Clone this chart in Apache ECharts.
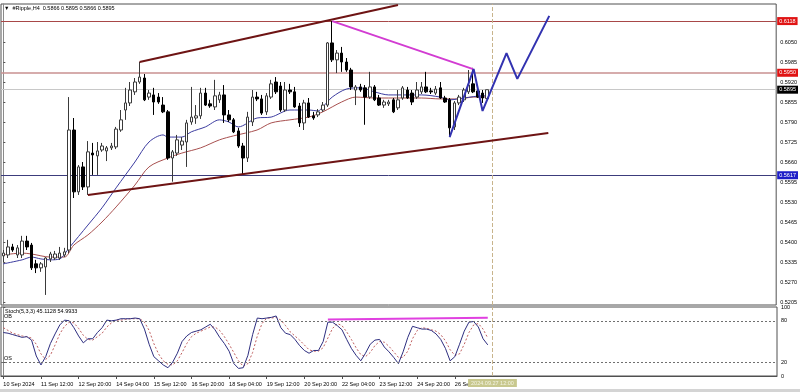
<!DOCTYPE html>
<html><head><meta charset="utf-8">
<script src="https://cdn.jsdelivr.net/npm/echarts@6/dist/echarts.min.js"></script>
<style>html,body{margin:0;padding:0;background:#fff}#c{width:800px;height:392px}</style>
</head><body><div id="c"></div>
<script>
// ---- data (H4 bars, 10 Sep 2024 04:00 ... 27 Sep 2024 08:00) ----
const opens = [
0.5355,0.5358,0.5384,0.5358,0.5358,0.5403,0.5390,0.5329,0.5316,0.5319,
0.5345,0.5348,0.5348,0.5358,0.5374,0.5764,0.5563,0.5644,0.5579,0.5689,
0.5680,0.5699,0.5696,0.5706,0.5709,0.5764,0.5829,0.5852,0.5888,0.5920,
0.5933,0.5871,0.5878,0.5871,0.5845,0.5823,0.5673,0.5689,0.5715,0.5725,
0.5790,0.5803,0.5810,0.5884,0.5849,0.5839,0.5862,0.5878,0.5813,0.5797,
0.5761,0.5712,0.5673,0.5790,0.5871,0.5865,0.5823,0.5871,0.5920,0.5907,
0.5829,0.5894,0.5888,0.5842,0.5787,0.5852,0.5810,0.5813,0.5829,0.5845,
0.6047,0.5992,0.6014,0.5985,0.5959,0.5894,0.5904,0.5901,0.5871,0.5904,
0.5868,0.5845,0.5849,0.5862,0.5836,0.5868,0.5894,0.5884,0.5871,0.5888,
0.5904,0.5891,0.5884,0.5901,0.5868,0.5862,0.5774,0.5852,0.5862,0.5888,
0.5914,0.5891,0.5884,0.5866];
const highs = [
0.5374,0.5407,0.5394,0.5390,0.5420,0.5420,0.5397,0.5342,0.5335,0.5351,
0.5368,0.5371,0.5384,0.5381,0.5871,0.5803,0.5650,0.5660,0.5728,0.5722,
0.5725,0.5722,0.5712,0.5722,0.5774,0.5829,0.5901,0.5920,0.5933,0.5985,
0.5946,0.5894,0.5901,0.5884,0.5871,0.5829,0.5699,0.5748,0.5741,0.5797,
0.5904,0.5845,0.5901,0.5901,0.5862,0.5927,0.5888,0.5910,0.5829,0.5803,
0.5771,0.5722,0.5823,0.5894,0.5888,0.5878,0.5884,0.5927,0.5936,0.5920,
0.5920,0.5914,0.5904,0.5852,0.5862,0.5868,0.5823,0.5832,0.5855,0.6050,
0.6118,0.6024,0.6034,0.5998,0.5966,0.5910,0.5914,0.5910,0.5953,0.5910,
0.5878,0.5862,0.5862,0.5868,0.5894,0.5907,0.5904,0.5894,0.5920,0.5920,
0.5953,0.5901,0.5907,0.5920,0.5875,0.5868,0.5858,0.5878,0.5901,0.5959,
0.5966,0.5901,0.5894,0.5895];
const lows = [
0.5335,0.5348,0.5368,0.5348,0.5348,0.5374,0.5309,0.5299,0.5303,0.5228,
0.5335,0.5342,0.5342,0.5351,0.5364,0.5543,0.5553,0.5569,0.5553,0.5618,
0.5618,0.5693,0.5663,0.5699,0.5702,0.5758,0.5797,0.5842,0.5878,0.5914,
0.5858,0.5862,0.5813,0.5849,0.5819,0.5667,0.5596,0.5680,0.5699,0.5644,
0.5781,0.5784,0.5800,0.5842,0.5836,0.5829,0.5852,0.5787,0.5790,0.5754,
0.5706,0.5621,0.5660,0.5777,0.5858,0.5813,0.5813,0.5865,0.5881,0.5823,
0.5823,0.5881,0.5836,0.5774,0.5764,0.5803,0.5797,0.5806,0.5823,0.5839,
0.5985,0.5949,0.5953,0.5953,0.5894,0.5845,0.5888,0.5781,0.5865,0.5858,
0.5842,0.5836,0.5842,0.5819,0.5829,0.5862,0.5865,0.5845,0.5865,0.5881,
0.5884,0.5881,0.5878,0.5865,0.5852,0.5741,0.5764,0.5845,0.5855,0.5881,
0.5884,0.5868,0.5852,0.5866];
const closes = [
0.5364,0.5384,0.5374,0.5381,0.5403,0.5384,0.5316,0.5316,0.5329,0.5348,
0.5361,0.5361,0.5364,0.5368,0.5764,0.5563,0.5644,0.5579,0.5693,0.5683,
0.5696,0.5712,0.5706,0.5712,0.5767,0.5797,0.5852,0.5894,0.5920,0.5936,
0.5862,0.5884,0.5855,0.5855,0.5823,0.5673,0.5693,0.5732,0.5728,0.5787,
0.5806,0.5810,0.5884,0.5845,0.5842,0.5875,0.5878,0.5813,0.5797,0.5758,
0.5712,0.5673,0.5806,0.5871,0.5865,0.5819,0.5875,0.5914,0.5888,0.5829,
0.5894,0.5888,0.5839,0.5787,0.5852,0.5806,0.5803,0.5823,0.5845,0.6047,
0.5992,0.6014,0.5985,0.5959,0.5904,0.5904,0.5894,0.5871,0.5904,0.5862,
0.5845,0.5855,0.5855,0.5823,0.5862,0.5901,0.5868,0.5855,0.5894,0.5904,
0.5888,0.5888,0.5897,0.5868,0.5855,0.5771,0.5852,0.5871,0.5894,0.5910,
0.5888,0.5871,0.5868,0.5895];

// moving averages (read at sample bars)
const maFastBars = [0,4,6,8,10,12,14,18,21,24,28,31,34,35,38,40,43,46,48,50,54,57,61,65,67,68,70,73,76,79,82,86,89,93,95,98,102,103];
const maFastVals = [0.5329,0.5342,0.5351,0.5345,0.5342,0.5345,0.5381,0.5455,0.5511,0.5576,0.5660,0.5725,0.5748,0.5741,0.5741,0.5758,0.5774,0.5797,0.5790,0.5774,0.5803,0.5806,0.5829,0.5829,0.5826,0.5839,0.5871,0.5897,0.5901,0.5888,0.5878,0.5878,0.5878,0.5871,0.5862,0.5868,0.5875,0.5875];
const maSlowBars = [0,4,6,10,13,15,18,21,24,28,31,35,38,42,46,49,54,57,61,65,68,72,75,79,82,89,93,97,100,103];
const maSlowVals = [0.5358,0.5364,0.5361,0.5351,0.5351,0.5390,0.5423,0.5465,0.5514,0.5585,0.5644,0.5673,0.5689,0.5706,0.5732,0.5745,0.5764,0.5787,0.5797,0.5806,0.5823,0.5855,0.5871,0.5868,0.5868,0.5868,0.5865,0.5865,0.5871,0.5871];

// Stochastic(5,3,3)
const stochMain = [
63,62,60,58,56,57,52,29,16,28,
47,61,74,81,80,70,58,48,54,54,
63,70,81,80,81,83,83,83,84,83,
68,46,28,22,16,12,20,33,50,58,
63,65,67,71,75,67,56,47,36,18,
11,12,30,60,84,83,84,85,87,70,
62,60,53,44,37,33,37,37,50,78,
78,73,67,53,40,30,22,33,46,52,
53,42,35,27,18,35,56,72,70,68,
68,66,61,53,40,22,28,46,65,78,
79,71,54,45.1128];
const stochSignal = [
70,66,62,60,58,57,55,46,32,24,
30,45,61,72,78,77,69,59,53,52,
57,62,71,77,81,81,82,83,83,83,
78,66,47,32,22,17,16,22,34,47,
57,62,65,68,71,71,66,57,46,34,
22,14,18,34,58,76,84,84,85,81,
73,64,58,52,45,38,36,36,41,55,
69,76,73,64,53,41,31,28,34,44,
50,49,43,35,27,27,36,54,66,70,
69,67,65,60,51,38,30,32,46,63,
74,76,68,54.9933];

// drawn objects: [bar, price]
const upperTrend = [[29,0.5985],[84,0.6170]];
const lowerTrend = [[18,0.5553],[116,0.5754]];
const magentaLine = [[70,0.6118],[100,0.5962]];
const zigzag = [[95.0,0.5741],[100.1,0.5962],[102.0,0.5826],[107.1,0.6014],[109.4,0.5930],[116.2,0.6135]];
const stochMagenta = [[69,82],[103,84.5]];

const levels = [0.6118, 0.5950, 0.5895, 0.5617];
const priceTicks = [0.6050,0.5985,0.5920,0.5855,0.5790,0.5725,0.5660,0.5595,0.5530,0.5465,0.5400,0.5335,0.5270,0.5205];
const stochTicks = [0,20,80,100];
const timeLabels = ['10 Sep 2024','11 Sep 12:00','12 Sep 20:00','14 Sep 04:00','15 Sep 12:00','16 Sep 20:00','18 Sep 04:00','19 Sep 12:00','20 Sep 20:00','22 Sep 04:00','23 Sep 12:00','24 Sep 20:00','26 Sep 04:00'];
const cursorBar = 104, cursorLabel = '2024.09.27 12:00';
const SLOTS = 165, LABEL_EVERY = 8;

// ---- chart ----
const categories = Array.from({length: SLOTS}, (_, i) => String(i));
const candles = opens.map((o, i) => [o, closes[i], lows[i], highs[i]]);
const zip = (a, b) => a.map((v, i) => [v, b[i]]);
const FF = 'Liberation Sans, DejaVu Sans, sans-serif';
const FS = 5.5;
const showLab = (i) => i % LABEL_EVERY === 0 && i / LABEL_EVERY < timeLabels.length;

const levelStyles = [
  {line:'#a84848', w:1, bg:'#e01414'},
  {line:'#c99191', w:1.5, bg:'#e01414'},
  {line:'#c8c8c8', w:1, bg:'#000000'},
  {line:'#3c3c7c', w:1, bg:'#1e1ec8'}
];

const chart = echarts.init(document.getElementById('c'), null, {renderer:'canvas'});
chart.setOption({
  animation:false,
  backgroundColor:'#ffffff',
  title:[
    {text:'▼  #Ripple,H4  0.5866 0.5895 0.5866 0.5895', left:4, top:5, padding:0, textStyle:{fontSize:FS, fontWeight:'normal', color:'#000', fontFamily:FF}},
    {text:'Stoch(5,3,3) 45.1128 54.9933', left:5, top:308, padding:0, textStyle:{fontSize:FS, fontWeight:'normal', color:'#000', fontFamily:FF}}
  ],
  grid:[
    {left:1, right:23, top:4, height:301, show:true, borderColor:'#505050', borderWidth:1, backgroundColor:'#fff'},
    {left:1, right:23, top:307, height:69, show:true, borderColor:'#505050', borderWidth:1, backgroundColor:'#fff'}
  ],
  xAxis:[
    {type:'category', gridIndex:0, data:categories, show:false},
    {type:'value', gridIndex:0, min:-0.5, max:SLOTS-0.5, show:false},
    {type:'category', gridIndex:1, data:categories,
      axisLine:{show:true, lineStyle:{color:'#505050'}},
      axisTick:{show:true, interval:(i)=>showLab(i), alignWithLabel:true, length:3, lineStyle:{color:'#505050'}},
      axisLabel:{show:true, interval:(i)=>showLab(i), formatter:(v,i)=>timeLabels[i/LABEL_EVERY]||'', align:'left', fontSize:FS, color:'#000', fontFamily:FF, margin:5}},
    {type:'value', gridIndex:1, min:-0.5, max:SLOTS-0.5, show:false}
  ],
  yAxis:[
    {type:'value', gridIndex:0, position:'right', min:0.519525, max:0.61735, scale:true,
      splitLine:{show:false},
      axisLine:{show:true, lineStyle:{color:'#8a8a8a'}},
      axisTick:{show:true, length:2, customValues:priceTicks, lineStyle:{color:'#555'}},
      axisLabel:{show:true, customValues:priceTicks, formatter:(v)=>v.toFixed(4), fontSize:FS, color:'#000', fontFamily:FF, margin:4}},
    {type:'value', gridIndex:1, position:'right', min:0, max:100,
      splitLine:{show:false},
      axisLine:{show:true, lineStyle:{color:'#8a8a8a'}},
      axisTick:{show:true, length:2, customValues:stochTicks, lineStyle:{color:'#555'}},
      axisLabel:{show:true, customValues:stochTicks, fontSize:FS, color:'#000', fontFamily:FF, margin:4}}
  ],
  graphic:[
    {type:'rect', left:0, bottom:0, shape:{width:800, height:3}, style:{fill:'#d4d4d4'}, silent:true}
  ],
  series:[
    {type:'candlestick', xAxisIndex:0, yAxisIndex:0, data:candles, barWidth:3, z:3,
      itemStyle:{color:'#ffffff', color0:'#000000', borderColor:'#3a3a3a', borderColor0:'#000000', borderWidth:1},
      markLine:{silent:true, symbol:'none', animation:false, precision:6, z:2,
        data:[
          ...levels.map((v,k)=>({yAxis:v, lineStyle:{color:levelStyles[k].line, width:levelStyles[k].w, type:'solid'},
            label:{show:true, position:'end', distance:1, formatter:v.toFixed(4), backgroundColor:levelStyles[k].bg, color:'#fff', fontSize:FS, fontFamily:FF, padding:[1,2,1,2]}})),
          {xAxis:cursorBar, lineStyle:{color:'#c8b48c', width:1, type:'dashed'}, label:{show:false}}
        ]}},
    {type:'line', xAxisIndex:1, yAxisIndex:0, data:zip(maSlowBars, maSlowVals), showSymbol:false, smooth:0.3, lineStyle:{color:'#a8504f', width:1}, z:2},
    {type:'line', xAxisIndex:1, yAxisIndex:0, data:zip(maFastBars, maFastVals), showSymbol:false, smooth:0.3, lineStyle:{color:'#3c3ca0', width:1}, z:2},
    {type:'line', xAxisIndex:1, yAxisIndex:0, data:upperTrend, showSymbol:false, lineStyle:{color:'#6e1414', width:2}, z:4},
    {type:'line', xAxisIndex:1, yAxisIndex:0, data:lowerTrend, showSymbol:false, lineStyle:{color:'#6e1414', width:2}, z:4},
    {type:'line', xAxisIndex:1, yAxisIndex:0, data:magentaLine, showSymbol:false, lineStyle:{color:'#d23cd2', width:2}, z:4},
    {type:'line', xAxisIndex:1, yAxisIndex:0, data:zigzag, showSymbol:false, lineStyle:{color:'#3232b0', width:2}, z:5},
    {type:'line', xAxisIndex:2, yAxisIndex:1, data:stochSignal, showSymbol:false, lineStyle:{color:'#c06060', width:1, type:[2,2]}, z:2},
    {type:'line', xAxisIndex:2, yAxisIndex:1, data:stochMain, showSymbol:false, lineStyle:{color:'#2e2e80', width:1}, z:3,
      markLine:{silent:true, symbol:'none', animation:false, precision:6,
        data:[
          {yAxis:80, lineStyle:{color:'#707070', width:1, type:[2,2]}, label:{show:true, position:'insideStartTop', distance:[3,1], formatter:'OB', fontSize:FS, color:'#000', fontFamily:FF}},
          {yAxis:20, lineStyle:{color:'#707070', width:1, type:[2,2]}, label:{show:true, position:'insideStartTop', distance:[3,1], formatter:'OS', fontSize:FS, color:'#000', fontFamily:FF}},
          {xAxis:cursorBar, lineStyle:{color:'#c8b48c', width:1, type:'dashed'},
            label:{show:true, position:'start', distance:3, formatter:cursorLabel, backgroundColor:'#c8c88e', color:'#f4f4e4', fontSize:FS, fontFamily:FF, padding:[1,3,1,3]}}
        ]}},
    {type:'line', xAxisIndex:3, yAxisIndex:1, data:stochMagenta, showSymbol:false, lineStyle:{color:'#e040e0', width:2}, z:4}
  ]
});
</script>
</body></html>
